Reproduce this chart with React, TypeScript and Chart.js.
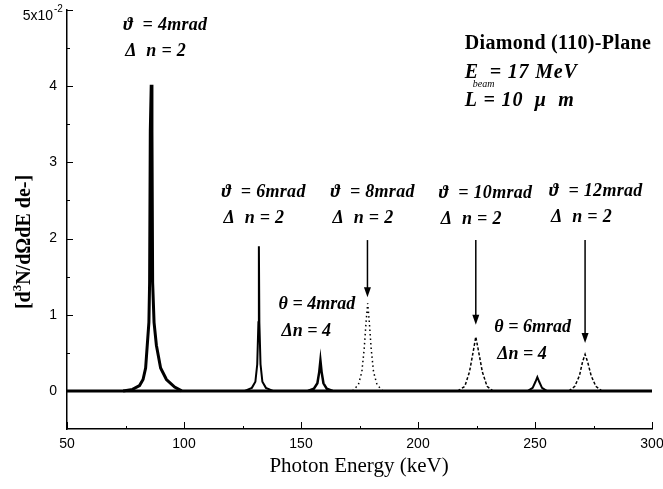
import { useEffect, useRef } from "react";
import { Chart, registerables } from "chart.js";

Chart.register(...registerables);

// ---- axis ticks ----
const xTickValues = [50, 100, 150, 200, 250, 300];
const xMinorTicks = [75, 125, 175, 225, 275];
const yTickValues = [0, 1, 2, 3, 4, 5];
const yMinorTicks = [0.5, 1.5, 2.5, 3.5, 4.5];

// ---- series (x: photon energy keV, y: yield x10^-2) ----
const baseE = [50, 300];
const baseV = [0, 0];

const p1E = [74, 78, 81, 82.5, 83.6, 84.3, 85.0, 85.3, 85.6, 86.0, 86.3, 86.6, 87.2, 88.2, 90, 92.5, 96, 99];
const p1V = [0, 0.02, 0.07, 0.15, 0.3, 0.6, 0.9, 1.42, 3.41, 4.02, 3.41, 1.42, 0.9, 0.6, 0.3, 0.15, 0.05, 0];

const p2E = [126, 129, 130.5, 131.3, 131.8, 132, 132.2, 132.7, 133.5, 135, 138];
const p2V = [0, 0.04, 0.12, 0.35, 0.9, 1.9, 0.9, 0.35, 0.12, 0.04, 0];

const p3E = [153, 155.5, 157, 157.8, 158.3, 158.8, 159.6, 161, 163.5];
const p3V = [0, 0.03, 0.1, 0.25, 0.4, 0.25, 0.1, 0.03, 0];

const p4E = [172, 174.5, 176, 177, 177.8, 178.5, 179.2, 180, 181, 182.5, 185];
const p4V = [0, 0.08, 0.25, 0.55, 0.9, 1.15, 0.9, 0.55, 0.25, 0.08, 0];

const p5E = [217, 220, 222, 223.5, 224.7, 226, 227.5, 229.5, 232];
const p5V = [0, 0.06, 0.25, 0.5, 0.71, 0.5, 0.25, 0.06, 0];

const p6E = [247, 249, 250.2, 251, 251.8, 253, 255];
const p6V = [0, 0.04, 0.12, 0.18, 0.12, 0.04, 0];

const p7E = [264.5, 267, 269, 270.3, 271.4, 272.5, 274, 276, 278.5];
const p7V = [0, 0.06, 0.2, 0.38, 0.48, 0.38, 0.2, 0.06, 0];

// ---- annotations (anchored in data units) ----
const peakLabelTheta = ["ϑ  = 4mrad", "ϑ  = 6mrad", "ϑ  = 8mrad", "ϑ  = 10mrad", "ϑ  = 12mrad"];
const peakLabelDn = ["Δ  n = 2", "Δ  n = 2", "Δ  n = 2", "Δ  n = 2", "Δ  n = 2"];
const peakLabelX = [74.0, 116.0, 162.6, 208.9, 256.0];
const peakLabelY = [4.8, 2.6, 2.6, 2.59, 2.62];

const harmLabelTheta = ["θ = 4mrad", "θ = 6mrad"];
const harmLabelDn = ["Δn = 4", "Δn = 4"];
const harmLabelX = [140.4, 232.6];
const harmLabelY = [1.13, 0.84];

const arrowX = [178.4, 224.7, 271.4];
const arrowFrom = [1.98, 1.98, 1.98];
const arrowTo = [1.23, 0.87, 0.63];

const infoX = 220.0;
const infoY = 4.55;

const xy = (e: number[], v: number[]) => e.map((x, i) => ({ x, y: v[i] }));

const SERIF = "'Liberation Serif', 'Times New Roman', serif";
const SANS = "'Liberation Sans', Arial, sans-serif";

const overlay = {
  id: "overlay",
  afterDraw(chart: any) {
    const ctx = chart.ctx as any;
    const xs = chart.scales.x;
    const ys = chart.scales.y;
    const ca = chart.chartArea;
    ctx.save();
    ctx.strokeStyle = "#000";
    ctx.fillStyle = "#000";
    ctx.lineWidth = 1;
    // inward ticks
    ctx.beginPath();
    xTickValues.forEach((v) => {
      const px = Math.round(xs.getPixelForValue(v)) + 0.5;
      ctx.moveTo(px, ca.bottom);
      ctx.lineTo(px, ca.bottom - 7);
    });
    xMinorTicks.forEach((v) => {
      const px = Math.round(xs.getPixelForValue(v)) + 0.5;
      ctx.moveTo(px, ca.bottom);
      ctx.lineTo(px, ca.bottom - 3);
    });
    yTickValues.forEach((v) => {
      const py = Math.round(ys.getPixelForValue(v)) + 0.5;
      ctx.moveTo(ca.left, py);
      ctx.lineTo(ca.left + 6, py);
    });
    yMinorTicks.forEach((v) => {
      const py = Math.round(ys.getPixelForValue(v)) + 0.5;
      ctx.moveTo(ca.left, py);
      ctx.lineTo(ca.left + 3, py);
    });
    ctx.stroke();

    // top tick label 5x10^-2
    const topY = ys.getPixelForValue(5);
    ctx.font = `14px ${SANS}`;
    ctx.textAlign = "right";
    ctx.textBaseline = "middle";
    ctx.fillText("5x10", ca.left - 14, topY + 6);
    ctx.font = `10px ${SANS}`;
    ctx.textAlign = "left";
    ctx.fillText("-2", ca.left - 13, topY - 1);

    // axis titles
    ctx.font = `21px ${SERIF}`;
    ctx.textAlign = "center";
    ctx.textBaseline = "middle";
    ctx.fillText("Photon Energy (keV)", 359, 466);

    ctx.save();
    ctx.translate(25, 242);
    ctx.rotate(-Math.PI / 2);
    ctx.textAlign = "left";
    ctx.font = `bold 20px ${SERIF}`;
    const t1 = "[d";
    const t2 = "N/dΩdE de-]";
    const w1 = ctx.measureText(t1).width;
    const w2 = ctx.measureText(t2).width;
    ctx.font = `bold 13px ${SERIF}`;
    const w3 = ctx.measureText("3").width;
    const total = w1 + w2 + w3;
    let cx = -total / 2;
    ctx.font = `bold 20px ${SERIF}`;
    ctx.fillText(t1, cx, 0);
    cx += w1;
    ctx.font = `bold 13px ${SERIF}`;
    ctx.fillText("3", cx, -7);
    cx += w3;
    ctx.font = `bold 20px ${SERIF}`;
    ctx.fillText(t2, cx, 0);
    ctx.restore();

    // peak labels
    ctx.textAlign = "left";
    ctx.textBaseline = "middle";
    ctx.font = `italic bold 18px ${SERIF}`;
    ctx.letterSpacing = "0.3px";
    peakLabelTheta.forEach((t, i) => {
      const px = xs.getPixelForValue(peakLabelX[i]);
      const py = ys.getPixelForValue(peakLabelY[i]);
      ctx.fillText(t, px, py);
      ctx.fillText(peakLabelDn[i], px + 2, py + 26);
    });
    ctx.font = `italic bold 18px ${SERIF}`;
    ctx.letterSpacing = "0px";
    harmLabelTheta.forEach((t, i) => {
      const px = xs.getPixelForValue(harmLabelX[i]);
      const py = ys.getPixelForValue(harmLabelY[i]);
      ctx.fillText(t, px, py);
      ctx.fillText(harmLabelDn[i], px + 3, py + 27);
    });

    // arrows
    ctx.lineWidth = 1.5;
    arrowX.forEach((v, i) => {
      const px = xs.getPixelForValue(v);
      const y0 = ys.getPixelForValue(arrowFrom[i]);
      const y1 = ys.getPixelForValue(arrowTo[i]);
      ctx.beginPath();
      ctx.moveTo(px, y0);
      ctx.lineTo(px, y1 - 6);
      ctx.stroke();
      ctx.beginPath();
      ctx.moveTo(px - 3.5, y1 - 10);
      ctx.lineTo(px + 3.5, y1 - 10);
      ctx.lineTo(px, y1);
      ctx.closePath();
      ctx.fill();
    });

    // info box
    const ix = xs.getPixelForValue(infoX);
    const iy = ys.getPixelForValue(infoY);
    ctx.letterSpacing = "0.3px";
    ctx.font = `bold 20px ${SERIF}`;
    ctx.fillText("Diamond (110)-Plane", ix, iy);
    ctx.font = `italic bold 20px ${SERIF}`;
    ctx.letterSpacing = "0.8px";
    ctx.fillText("E", ix, iy + 29);
    ctx.letterSpacing = "0px";
    ctx.font = `italic 10px ${SERIF}`;
    ctx.fillText("beam", ix + 8, iy + 40);
    ctx.letterSpacing = "0.8px";
    ctx.font = `italic bold 20px ${SERIF}`;
    ctx.fillText("= 17 MeV", ix + 25, iy + 29);
    ctx.fillText("L = 10  μ  m", ix, iy + 57);
    ctx.letterSpacing = "0px";
    ctx.restore();
  },
};

export default function App() {
  const ref = useRef<HTMLCanvasElement>(null);
  useEffect(() => {
    document.body.style.margin = "0";
    const mk = (e: number[], v: number[], width: number, dash: number[] = []) => ({
      data: xy(e, v),
      borderColor: "#000",
      borderWidth: width,
      borderDash: dash,
      pointRadius: 0,
      tension: 0,
      fill: false,
    });
    const chart = new Chart(ref.current!, {
      type: "line",
      data: {
        datasets: [
          mk(baseE, baseV, 3),
          mk(p1E, p1V, 3),
          mk(p2E, p2V, 2),
          mk(p3E, p3V, 2.5),
          mk(p4E, p4V, 1.5, [1.5, 3]),
          mk(p5E, p5V, 1.5, [3, 2]),
          mk(p6E, p6V, 2),
          mk(p7E, p7V, 1.5, [3, 2]),
        ] as any,
      },
      options: {
        animation: false,
        responsive: true,
        maintainAspectRatio: false,
        layout: { padding: { top: 10, right: 11, left: 0, bottom: 0 } },
        plugins: { legend: { display: false }, tooltip: { enabled: false } },
        scales: {
          x: {
            type: "linear",
            min: 50,
            max: 300,
            grid: { drawOnChartArea: false, drawTicks: false, color: "rgba(0,0,0,0)" },
            border: { display: true, color: "#000", width: 1.5 },
            afterBuildTicks: (s: any) => {
              s.ticks = xTickValues.map((v) => ({ value: v }));
            },
            afterFit: (s: any) => {
              s.height = 60;
              s.paddingLeft = 0;
              s.paddingRight = 0;
            },
            ticks: {
              autoSkip: false,
              maxRotation: 0,
              padding: 7,
              color: "#000",
              font: { family: SANS, size: 14 },
            },
          },
          y: {
            type: "linear",
            min: -0.5,
            max: 5,
            grid: { drawOnChartArea: false, drawTicks: false, color: "rgba(0,0,0,0)" },
            border: { display: true, color: "#000", width: 1.5 },
            afterBuildTicks: (s: any) => {
              s.ticks = yTickValues.map((v) => ({ value: v }));
            },
            afterFit: (s: any) => {
              s.width = 67;
              s.paddingTop = 0;
              s.paddingBottom = 0;
            },
            ticks: {
              autoSkip: false,
              padding: 10,
              color: "#000",
              font: { family: SANS, size: 14 },
              callback: (v: any) => (v === 5 ? "" : String(v)),
            },
          },
        },
      },
      plugins: [overlay],
    });
    return () => chart.destroy();
  }, []);
  return (
    <div style={{ position: "fixed", left: 0, top: 0, width: 663, height: 489, background: "#fff" }}>
      <canvas ref={ref} />
    </div>
  );
}
